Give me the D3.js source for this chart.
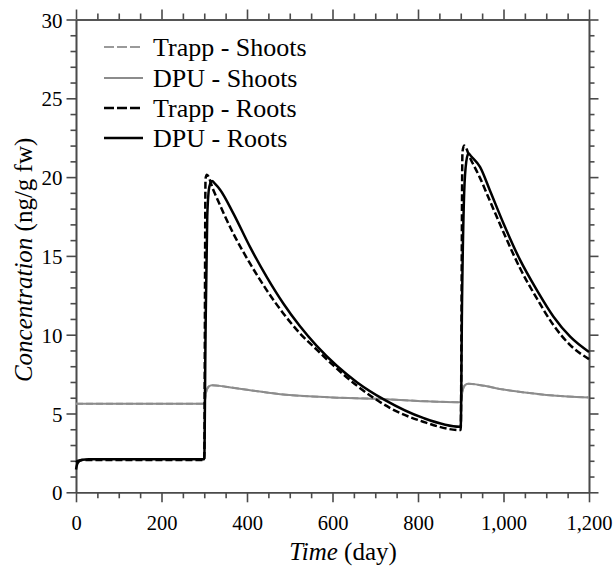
<!DOCTYPE html>
<html>
<head>
<meta charset="utf-8">
<script src="https://cdn.jsdelivr.net/npm/d3@7"></script>
<style>
  html, body { margin: 0; padding: 0; background: #fff; }
  svg { display: block; }
  svg text { fill: #000; }
</style>
</head>
<body>
<svg id="chart" width="616" height="566"></svg>
<script>
// ---- Data ----
const shootDays   = [0, 300, 304, 310, 318, 350, 400, 450, 500, 600, 700, 800, 900, 904, 910, 918, 950, 1000, 1050, 1100, 1150, 1200];
const trappShoots = [5.62, 5.62, 6.3, 6.7, 6.8, 6.7, 6.5, 6.32, 6.17, 6.02, 5.93, 5.8, 5.72, 6.4, 6.8, 6.88, 6.78, 6.52, 6.33, 6.18, 6.08, 6.02];
const dpuShoots   = [5.62, 5.62, 6.3, 6.7, 6.8, 6.7, 6.5, 6.32, 6.17, 6.02, 5.93, 5.8, 5.72, 6.4, 6.8, 6.88, 6.78, 6.52, 6.33, 6.18, 6.08, 6.02];

const trappRootDays = [0, 5, 20, 300, 303, 306, 321, 368, 407, 446, 485, 524, 563, 602, 657, 734, 812, 898, 900, 904, 908, 922, 945, 968, 1000, 1039, 1078, 1117, 1156, 1200];
const trappRoots    = [1.9, 2.0, 2.05, 2.05, 19.9, 20.15, 19.2, 16.42, 14.52, 12.83, 11.35, 10.08, 9.05, 8.05, 6.77, 5.36, 4.48, 3.95, 3.95, 21.6, 22.0, 21.2, 19.95, 18.5, 16.5, 14.2, 12.3, 10.6, 9.34, 8.45];

const dpuRootDays = [0, 3, 8, 15, 30, 300, 303, 307, 312, 318, 326, 337, 368, 407, 446, 485, 524, 563, 610, 657, 723, 812, 898, 900, 903, 908, 913, 918, 925, 945, 968, 1000, 1039, 1078, 1117, 1156, 1200];
const dpuRoots    = [1.45, 1.8, 1.98, 2.06, 2.1, 2.1, 10, 17.5, 19.4, 19.75, 19.55, 19.2, 17.7, 15.57, 13.67, 11.98, 10.53, 9.29, 8.03, 6.99, 5.85, 4.72, 4.16, 4.16, 12, 19, 21.0, 21.5, 21.3, 20.65, 19.17, 17.06, 14.73, 12.83, 11.14, 9.87, 8.9];

const xMajorTicks = [0, 200, 400, 600, 800, 1000, 1200];
const yMajorTicks = [0, 5, 10, 15, 20, 25, 30];
const legendLabels = ["Trapp - Shoots", "DPU - Shoots", "Trapp - Roots", "DPU - Roots"];

// ---- Layout ----
const FONT = '"Liberation Serif", Tinos, "Times New Roman", Times, serif';
const svg = d3.select("#chart");
const L = 76, R = 589, T = 19.5, B = 492.3;
const x = d3.scaleLinear().domain([0, 1200]).range([L, R]);
const y = d3.scaleLinear().domain([0, 30]).range([B, T]);

const axisColor = "#4a4a4a";
const fmt = d3.format(",");
const xMinor = d3.range(0, 1201, 50).filter(v => v % 200 !== 0);
const yMinor = d3.range(0, 31, 1).filter(v => v % 5 !== 0);

function styleAxis(g) {
  g.attr("font-family", FONT);
  g.selectAll("path.domain").attr("stroke", axisColor).attr("stroke-width", 1.6);
  g.selectAll(".tick line").attr("stroke", axisColor).attr("stroke-width", 1.6);
}

// bottom
svg.append("g").attr("transform", `translate(0,${B})`)
  .call(d3.axisBottom(x).tickValues(xMinor).tickSize(6).tickSizeOuter(0).tickFormat(""))
  .call(styleAxis);
svg.append("g").attr("transform", `translate(0,${B})`)
  .call(d3.axisBottom(x).tickValues(xMajorTicks).tickSize(10).tickSizeOuter(0).tickFormat(fmt).tickPadding(13))
  .call(styleAxis)
  .call(g => g.selectAll("text").attr("font-size", 20.5).attr("fill", "#000").attr("dy", "0.72em"));
// top
svg.append("g").attr("transform", `translate(0,${T})`)
  .call(d3.axisTop(x).tickValues(xMinor).tickSize(6).tickSizeOuter(0).tickFormat(""))
  .call(styleAxis);
svg.append("g").attr("transform", `translate(0,${T})`)
  .call(d3.axisTop(x).tickValues(xMajorTicks).tickSize(10).tickSizeOuter(0).tickFormat(""))
  .call(styleAxis);
// left
svg.append("g").attr("transform", `translate(${L},0)`)
  .call(d3.axisLeft(y).tickValues(yMinor).tickSize(5.5).tickSizeOuter(0).tickFormat(""))
  .call(styleAxis);
svg.append("g").attr("transform", `translate(${L},0)`)
  .call(d3.axisLeft(y).tickValues(yMajorTicks).tickSize(9.5).tickSizeOuter(0).tickFormat(d3.format("d")).tickPadding(4))
  .call(styleAxis)
  .call(g => g.selectAll("text").attr("font-size", 21).attr("fill", "#000").attr("dy", "0.36em"));
// right
svg.append("g").attr("transform", `translate(${R},0)`)
  .call(d3.axisRight(y).tickValues(yMinor).tickSize(5.5).tickSizeOuter(0).tickFormat(""))
  .call(styleAxis);
svg.append("g").attr("transform", `translate(${R},0)`)
  .call(d3.axisRight(y).tickValues(yMajorTicks).tickSize(9.5).tickSizeOuter(0).tickFormat(""))
  .call(styleAxis);

// ---- Series ----
const grey = "#8c8c8c";
const series = [
  { days: shootDays, vals: trappShoots, color: "#9a9a9a", dash: "7,3", w: 2 },
  { days: shootDays, vals: dpuShoots, color: grey, dash: null, w: 2 },
  { days: trappRootDays, vals: trappRoots, color: "#000", dash: "7,3", w: 2.5 },
  { days: dpuRootDays, vals: dpuRoots, color: "#000", dash: null, w: 2.5 }
];
const line = d3.line().x(d => x(d[0])).y(d => y(d[1])).curve(d3.curveMonotoneX);
series.forEach(s => {
  svg.append("path")
    .datum(s.days.map((d, i) => [d, s.vals[i]]))
    .attr("d", line)
    .attr("fill", "none")
    .attr("stroke", s.color)
    .attr("stroke-width", s.w)
    .attr("stroke-linejoin", "round")
    .attr("stroke-dasharray", s.dash);
});

// ---- Legend ----
const legY = [47, 78, 108, 138];
legendLabels.forEach((lab, i) => {
  const s = series[i];
  svg.append("line")
    .attr("x1", 104).attr("x2", 143).attr("y1", legY[i]).attr("y2", legY[i])
    .attr("stroke", s.color).attr("stroke-width", s.w)
    .attr("stroke-dasharray", s.dash ? "10,3" : null);
  svg.append("text").attr("x", 153).attr("y", legY[i] + 8.5)
    .attr("font-family", FONT).attr("font-size", 26).text(lab);
});

// ---- Axis titles ----
const xt = svg.append("text").attr("x", 343).attr("y", 560).attr("text-anchor", "middle")
  .attr("font-family", FONT).attr("font-size", 25);
xt.append("tspan").attr("font-style", "italic").text("Time");
xt.append("tspan").text(" (day)");

const yt = svg.append("text").attr("transform", `translate(32,${(T + B) / 2 + 4}) rotate(-90)`)
  .attr("text-anchor", "middle").attr("font-family", FONT).attr("font-size", 25);
yt.append("tspan").attr("font-style", "italic").text("Concentration");
yt.append("tspan").text(" (ng/g fw)");
</script>
</body>
</html>
